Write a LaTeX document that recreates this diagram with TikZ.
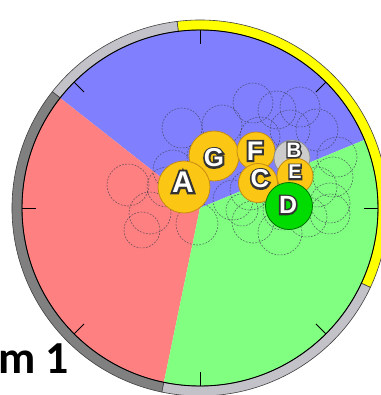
\documentclass[tikz,border=0pt]{standalone}
\usepackage{fontspec}
\setmainfont{Liberation Sans}
\newfontfamily\capfont{Carlito}
\newfontfamily\letterfont{Liberation Sans Bold}
\newfontfamily\rimfont{Liberation Sans Bold}[FakeBold=14]

\definecolor{secblue}{RGB}{128,128,255}
\definecolor{secred}{RGB}{255,128,128}
\definecolor{secgreen}{RGB}{128,255,128}
\definecolor{ringdark}{RGB}{128,128,128}
\definecolor{ringlight}{RGB}{194,194,200}
\definecolor{ringyellow}{RGB}{255,255,0}
\definecolor{gold}{RGB}{252,198,20}
\definecolor{goldedge}{RGB}{196,140,20}
\definecolor{pale}{RGB}{204,204,204}
\definecolor{lime}{RGB}{0,220,0}
\definecolor{limeedge}{RGB}{0,110,0}
\definecolor{ghostline}{RGB}{60,60,80}

% ring segment between two angles, radii 178..188
\newcommand\ringpart[3]{%
  \filldraw[fill=#1, draw=black!75, line width=0.6bp]
    (#2:178) arc[start angle=#2, end angle=#3, radius=178]
    -- (#3:188) arc[start angle=#3, end angle=#2, radius=188] -- cycle;}

% white letter over a thickened dark copy of itself
\newcommand\lab[2]{{\fontsize{#1}{#1}\selectfont
  \makebox[0pt]{\rimfont\color{black!80}#2}%
  \makebox[0pt]{\letterfont\color{white}#2}}}

\tikzset{
  ghost/.style={draw=ghostline, draw opacity=0.7, line width=0.6bp,
    dash pattern=on 1.8bp off 1.4bp},
  disc/.style={circle, inner sep=0pt, line width=0.8bp},
  golddisc/.style={disc, fill=gold, draw=goldedge},
  letter/.style={inner sep=0pt},
}

\begin{document}
\begin{tikzpicture}[x=1bp,y=1bp]
\useasboundingbox (-200,-187) rectangle (181,208);
\clip (-200,-187) rectangle (181,208);

% three sectors meeting at the centre
\fill[secblue] (0,0) -- (22.5:178) arc[start angle=22.5, end angle=141.8, radius=178] -- cycle;
\fill[secred] (0,0) -- (141.8:178) arc[start angle=141.8, end angle=258.3, radius=178] -- cycle;
\fill[secgreen] (0,0) -- (258.3:178) arc[start angle=258.3, end angle=382.5, radius=178] -- cycle;

% outer ring
\ringpart{ringyellow}{-25}{97}
\ringpart{ringlight}{97}{141.8}
\ringpart{ringdark}{141.8}{258.3}
\ringpart{ringlight}{258.3}{335}
\draw[line width=0.9bp] (0,0) circle[radius=178];

% ticks
\foreach \a in {0,45,...,315}
  \draw[line width=0.9bp] (\a:178) -- (\a:164);

\begin{scope}[shift={(-200,208)}, yscale=-1]
  % dashed candidate circles
  \foreach \x/\y/\r in {182/128/20, 222/125/20, 253/103/20, 277/110/19,
      300/107/20, 290/130/20, 317/130/21, 337/157/20, 260/137/20,
      207/157/20, 173/170/20, 128/185/21, 150/213/21, 142/230/18,
      197/224/21, 167/187/20, 233/200/20, 253/222/21, 280/233/22,
      307/217/20, 330/203/20, 333/177/20, 317/187/20, 283/210/20,
      250/190/20, 242/210/16, 330/214/20}
    \draw[ghost] (\x,\y) circle[radius=\r];

  % discs
  \node[golddisc, minimum size=50bp] (G) at (214,156) {};
  \node[golddisc, minimum size=52bp] (A) at (184,187) {};
  \node[golddisc, minimum size=38bp] (F) at (256,151) {};
  \node[golddisc, minimum size=39bp] (C) at (258,183) {};
  \node[disc, fill=pale, draw=pale!70!black, minimum size=36bp] (B) at (292,158) {};
  \node[golddisc, minimum size=36bp] (E) at (295,176) {};
  \node[disc, fill=lime, draw=limeedge, minimum size=47bp] (D) at (289,206) {};

  % disc letters
  \node[letter] (lA) at (183,182) {\lab{30}{A}};
  \node[letter] (lG) at (214,158) {\lab{26}{G}};
  \node[letter] (lF) at (255,151) {\lab{27}{F}};
  \node[letter] (lC) at (260,179) {\lab{26}{C}};
  \node[letter] (lB) at (294,150) {\lab{21}{B}};
  \node[letter] (lE) at (295,172) {\lab{20}{E}};
  \node[letter] (lD) at (288,205) {\lab{25}{D}};

  % caption
  \node[anchor=base west, inner sep=0pt, font=\capfont\bfseries\fontsize{46}{46}\selectfont]
    (cap) at (-2,373) {m 1};
\end{scope}
\end{tikzpicture}
\end{document}
